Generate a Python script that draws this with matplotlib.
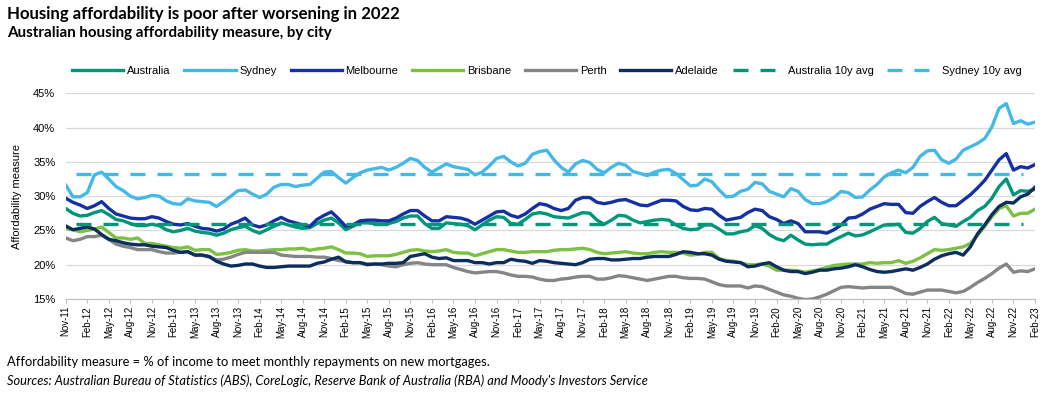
import numpy as np
import pandas as pd
import matplotlib
matplotlib.use('Agg')
import matplotlib.pyplot as plt

# monthly series, Nov-11 .. Feb-23 (136 months), % of income
australia = [28.2, 27.5, 27.1, 27.2, 27.6, 27.9, 27.3, 26.6, 26.4, 26.0,
             25.7, 25.7, 25.9, 25.7, 25.1, 24.8, 25.0, 25.3, 24.9, 24.7,
             24.6, 24.3, 24.6, 25.1, 25.4, 25.6, 25.0, 24.6, 25.1, 25.6,
             26.1, 25.8, 25.5, 25.3, 25.4, 26.0, 26.5, 26.8, 26.1, 25.1,
             25.6, 26.1, 26.1, 26.0, 25.9, 26.0, 26.3, 26.8, 27.1, 27.1,
             26.0, 25.3, 25.3, 26.1, 26.0, 25.9, 25.7, 25.1, 25.8, 26.5,
             27.0, 26.9, 26.0, 25.9, 26.6, 27.4, 27.6, 27.4, 27.0, 26.9,
             26.8, 27.2, 27.6, 27.5, 26.5, 25.9, 26.5, 27.2, 27.1, 26.5,
             26.1, 26.3, 26.5, 26.6, 26.5, 25.8, 25.3, 25.1, 25.2, 25.8,
             25.8, 25.2, 24.5, 24.5, 24.8, 25.0, 25.7, 25.3, 24.4, 23.8,
             23.5, 24.3, 23.6, 23.0, 22.9, 23.0, 23.0, 23.6, 24.1, 24.6,
             24.2, 24.35, 24.8, 25.3, 25.8, 25.8, 25.9, 24.7, 24.6, 25.3,
             26.3, 26.9, 26.0, 25.8, 25.6, 26.3, 26.9, 27.9, 28.5, 29.7,
             31.4, 32.5, 30.2, 30.8, 30.7, 31.0]

sydney = [31.6, 29.9, 29.9, 30.5, 33.1, 33.5, 32.5, 31.4, 30.8, 30.0,
          29.6, 29.8, 30.1, 30.0, 29.3, 28.9, 28.8, 29.6, 29.3, 29.2,
          29.1, 28.5, 29.2, 30.0, 30.8, 30.9, 30.3, 29.8, 30.3, 31.3,
          31.7, 31.7, 31.4, 31.6, 31.7, 32.6, 33.5, 33.6, 32.7, 31.9,
          32.7, 33.4, 33.8, 34.0, 34.2, 33.8, 34.2, 34.8, 35.5, 35.2,
          34.2, 33.5, 34.1, 34.7, 34.3, 34.1, 33.9, 33.1, 33.5, 34.4,
          35.5, 35.8, 35.0, 34.4, 34.8, 36.1, 36.5, 36.7, 35.3, 34.2,
          33.5, 34.7, 35.2, 34.9, 33.9, 33.4, 34.2, 34.8, 34.5, 33.6,
          33.3, 33.0, 33.5, 33.8, 33.9, 33.3, 32.4, 31.5, 31.6, 32.5,
          32.1, 30.9, 29.9, 30.0, 30.7, 31.0, 32.0, 31.8, 30.7, 30.3,
          29.9, 31.1, 30.7, 29.5, 28.9, 28.9, 29.2, 29.8, 30.7, 30.5,
          29.8, 29.9, 30.9, 31.7, 32.8, 33.4, 33.8, 33.4, 34.2, 35.8,
          36.6, 36.7, 35.3, 34.8, 35.4, 36.7, 37.2, 37.7, 38.4, 40.1,
          42.8, 43.5, 40.6, 41.0, 40.5, 40.8]

melbourne = [29.7, 29.1, 28.7, 28.2, 28.6, 29.2, 28.2, 27.4, 27.1, 26.8,
             26.7, 26.7, 27.0, 26.8, 26.3, 25.9, 25.8, 26.0, 25.6, 25.3,
             25.2, 24.9, 25.2, 25.9, 26.3, 26.8, 25.8, 25.5, 25.8, 26.4,
             26.9, 26.4, 26.1, 25.8, 25.6, 26.6, 27.2, 27.7, 26.7, 25.6,
             25.8, 26.4, 26.5, 26.5, 26.4, 26.4, 26.8, 27.4, 27.9, 27.9,
             27.1, 26.4, 26.4, 27.0, 26.9, 26.8, 26.5, 25.9, 26.5, 27.1,
             27.7, 27.8, 27.2, 26.9, 27.4, 28.2, 28.9, 28.7, 28.2, 27.9,
             28.2, 29.4, 29.8, 29.8, 29.1, 28.9, 29.1, 29.4, 29.5, 29.1,
             28.7, 28.6, 29.0, 29.4, 29.4, 29.3, 28.5, 28.0, 27.9, 28.2,
             28.1, 27.2, 26.5, 26.7, 26.9, 27.6, 28.1, 27.9, 27.0, 26.6,
             26.0, 26.4, 26.0, 24.8, 24.8, 24.8, 24.6, 25.1, 25.8, 26.8,
             26.9, 27.4, 28.1, 28.5, 28.9, 28.8, 28.8, 27.6, 27.5, 28.5,
             29.2, 29.8, 29.1, 28.6, 28.6, 29.4, 30.2, 31.2, 32.3, 33.8,
             35.3, 36.2, 33.8, 34.3, 34.1, 34.6]

brisbane = [25.3, 25.1, 24.8, 25.0, 25.2, 25.5, 24.7, 23.9, 23.9, 23.7,
            23.9, 23.1, 23.1, 22.9, 22.7, 22.5, 22.4, 22.6, 22.1, 22.2,
            22.2, 21.5, 21.6, 21.8, 22.1, 22.2, 22.0, 22.0, 22.1, 22.2,
            22.2, 22.3, 22.3, 22.4, 22.1, 22.3, 22.4, 22.6, 22.2, 21.7,
            21.7, 21.6, 21.2, 21.3, 21.3, 21.3, 21.5, 21.8, 22.1, 22.2,
            22.0, 21.9, 22.0, 22.2, 21.8, 21.7, 21.7, 21.3, 21.6, 21.9,
            22.2, 22.2, 22.0, 21.8, 21.8, 21.9, 21.9, 21.9, 22.1, 22.2,
            22.2, 22.3, 22.4, 22.2, 21.8, 21.6, 21.7, 21.8, 21.9, 21.7,
            21.6, 21.6, 21.8, 21.9, 21.8, 21.8, 21.7, 21.4, 21.5, 21.8,
            21.8, 20.9, 20.6, 20.5, 20.3, 20.0, 20.0, 20.1, 19.8, 19.2,
            19.2, 19.2, 19.1, 18.9, 19.1, 19.3, 19.6, 19.9, 20.0, 20.1,
            20.1, 20.1, 20.3, 20.2, 20.3, 20.3, 20.6, 20.2, 20.5, 21.0,
            21.6, 22.2, 22.1, 22.2, 22.4, 22.6, 23.1, 24.3, 25.6, 27.0,
            28.2, 28.6, 27.1, 27.5, 27.5, 28.1]

perth = [23.9, 23.5, 23.7, 24.1, 24.1, 24.3, 23.7, 23.0, 22.7, 22.5,
         22.2, 22.2, 22.2, 21.9, 21.7, 21.7, 21.8, 21.9, 21.4, 21.4,
         21.1, 20.7, 20.8, 21.1, 21.5, 21.8, 21.8, 21.8, 21.8, 21.8,
         21.4, 21.3, 21.2, 21.2, 21.2, 21.1, 21.1, 20.9, 20.6, 20.5,
         20.3, 20.3, 20.1, 20.1, 20.0, 19.8, 19.7, 20.0, 20.2, 20.3,
         20.1, 20.0, 20.0, 20.0, 19.6, 19.3, 19.0, 18.8, 18.9, 19.0,
         19.0, 18.8, 18.5, 18.3, 18.3, 18.2, 17.9, 17.7, 17.7, 17.9,
         18.0, 18.2, 18.3, 18.3, 17.9, 17.9, 18.1, 18.4, 18.3, 18.1,
         17.9, 17.7, 17.9, 18.1, 18.3, 18.3, 18.1, 18.0, 18.0, 17.9,
         17.5, 17.1, 16.9, 16.9, 16.9, 16.6, 16.9, 16.8, 16.4, 16.0,
         15.6, 15.4, 15.1, 14.9, 15.0, 15.3, 15.7, 16.2, 16.7, 16.8,
         16.7, 16.6, 16.7, 16.7, 16.7, 16.7, 16.3, 15.8, 15.7, 16.0,
         16.3, 16.3, 16.3, 16.1, 15.9, 16.1, 16.7, 17.4, 18.0, 18.7,
         19.5, 20.1, 18.9, 19.1, 19.0, 19.4]

adelaide = [25.65, 25.1, 25.3, 25.5, 25.2, 24.4, 23.7, 23.5, 23.2, 23.0,
            22.9, 22.9, 22.7, 22.6, 22.5, 22.1, 21.8, 21.9, 21.4, 21.4,
            21.2, 20.5, 20.1, 19.8, 19.9, 20.1, 20.1, 19.8, 19.6, 19.6,
            19.7, 19.8, 19.8, 19.8, 19.8, 20.2, 20.4, 20.8, 21.1, 20.4,
            20.3, 20.3, 20.0, 20.1, 20.1, 20.2, 20.2, 20.3, 21.2, 21.4,
            21.6, 21.1, 20.9, 21.0, 20.6, 20.6, 20.6, 20.3, 20.3, 20.1,
            20.3, 20.3, 20.8, 20.6, 20.5, 20.2, 20.6, 20.5, 20.3, 20.2,
            20.1, 20.0, 20.3, 20.8, 20.9, 20.9, 20.7, 20.7, 20.8, 20.9,
            20.9, 21.1, 21.2, 21.2, 21.2, 21.5, 21.9, 21.8, 21.6, 21.6,
            21.4, 20.8, 20.5, 20.4, 20.3, 19.7, 19.8, 20.1, 20.3, 19.7,
            19.2, 19.0, 19.0, 18.7, 18.9, 19.2, 19.2, 19.4, 19.5, 19.7,
            20.0, 19.7, 19.3, 19.0, 18.9, 19.0, 19.2, 19.4, 19.2, 19.6,
            20.1, 20.8, 21.3, 21.6, 21.8, 21.4, 22.6, 24.5, 25.8, 27.3,
            28.5, 29.1, 29.0, 29.9, 30.3, 31.3]

australia_avg = 26.0
sydney_avg = 33.3

months = pd.date_range('2011-11-01', periods=len(australia), freq='MS')
month_labels = list(months.strftime('%b-%y'))

series = [('Australia', australia, '#00967a'),
          ('Sydney', sydney, '#45b8e8'),
          ('Melbourne', melbourne, '#1530a0'),
          ('Brisbane', brisbane, '#7cc142'),
          ('Perth', perth, '#858585'),
          ('Adelaide', adelaide, '#0c2d5e')]

plt.rcParams['font.family'] = ['Liberation Sans', 'DejaVu Sans']

fig = plt.figure(figsize=(10.5, 3.96), dpi=100)
ax = fig.add_axes([0.0626, 0.245, 0.9231, 0.5194])

x = np.arange(len(months))
lw = 2.4
handles = []
for name, vals, col in series:
    h, = ax.plot(x, vals, color=col, lw=lw, solid_joinstyle='round', label=name)
    handles.append(h)

# 10 year averages, dashed
dash = (0, (4.5, 3.6))
h1, = ax.plot([1.4, 133.4], [australia_avg, australia_avg], color='#00967a', lw=lw,
              linestyle=dash, label='Australia 10y avg')
h2, = ax.plot([1.4, 133.4], [sydney_avg, sydney_avg], color='#45b8e8', lw=lw,
              linestyle=dash, label='Sydney 10y avg')
handles += [h1, h2]

ax.set_xlim(0, len(months) - 1)
ax.set_ylim(15, 45)
ax.set_yticks(np.arange(15, 46, 5))
ax.set_yticklabels([f'{v}%' for v in range(15, 46, 5)], fontsize=8)
ax.set_xticks(x[::3])
ax.set_xticklabels(month_labels[::3], rotation=90, fontsize=7)
ax.tick_params(axis='y', length=0, pad=7.5)
ax.tick_params(axis='x', length=3, color='#bfbfbf', pad=2)
for s in ['top', 'right', 'left']:
    ax.spines[s].set_visible(False)
ax.spines['bottom'].set_color('#bfbfbf')
ax.grid(axis='y', color='#d9d9d9', lw=0.9)
ax.set_axisbelow(True)
ax.set_ylabel('Affordability measure', fontsize=8)
ax.yaxis.set_label_coords(-0.045, 0.5)

fig.legend(handles=handles, loc='center left', bbox_to_anchor=(72.3 / 1050, 0.8207), ncol=8,
           frameon=False, fontsize=8, handlelength=4.6, handletextpad=0.36,
           columnspacing=1.22, borderpad=0, borderaxespad=0)

fig.text(7 / 1050, 1 - 14 / 396, 'Housing affordability is poor after worsening in 2022',
         fontsize=12.1, fontweight='bold', family='Lato', va='center', ha='left')
fig.text(7 / 1050, 1 - 33 / 396, 'Australian housing affordability measure, by city',
         fontsize=10.9, fontweight='bold', family='Lato', va='center', ha='left')
fig.text(7 / 1050, 1 - 362 / 396,
         'Affordability measure = % of income to meet monthly repayments on new mortgages.',
         fontsize=9.3, family='Lato', va='center', ha='left')
fig.text(7 / 1050, 1 - 381 / 396,
         "Sources: Australian Bureau of Statistics (ABS), CoreLogic, Reserve Bank of Australia (RBA) and Moody's Investors Service",
         fontsize=9.3, family='Lato', style='italic', va='center', ha='left')

fig.savefig('out.png', dpi=100)
